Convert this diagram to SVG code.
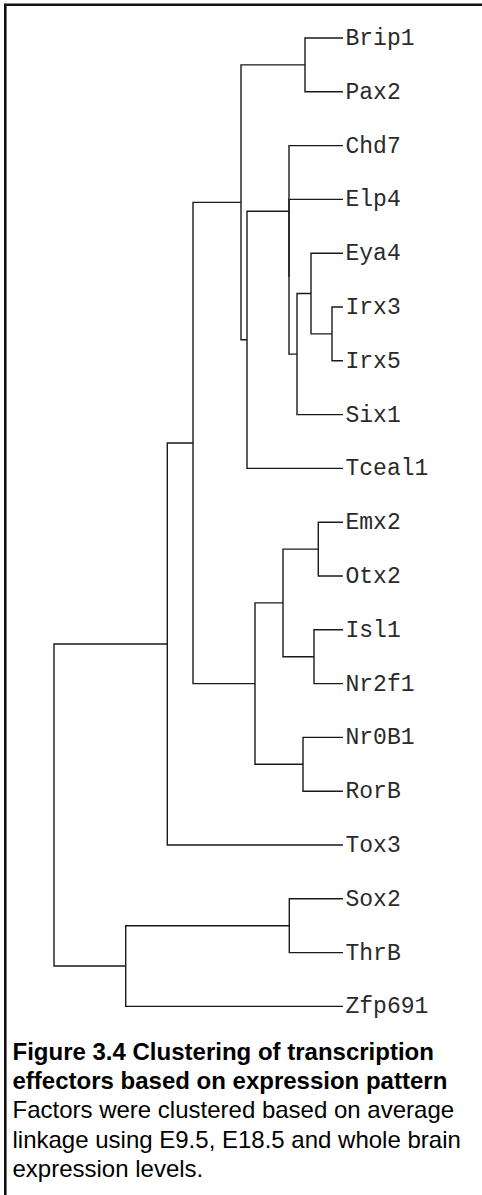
<svg xmlns="http://www.w3.org/2000/svg" width="482" height="1195" viewBox="0 0 482 1195">
  <style>
    .frame { fill: none; stroke: #111; stroke-width: 2.6; }
    .branch { fill: none; stroke: #1a1a1a; stroke-width: 1.4; }
    .leaf text { font-family: "Liberation Mono", "Courier New", monospace; font-size: 23px; fill: #2a2a2a; }
    .cap { font-family: "Liberation Sans", Arial, Helvetica, sans-serif; font-size: 24px; fill: #000; }
    .cap-title { font-weight: bold; }
  </style>
  <rect width="482" height="1195" fill="#fff"/>
  <!-- panel frame: top and left edges only -->
  <path class="frame" d="M5.3,1195 V4.7 H482"/>

  <!-- dendrogram branches (average linkage) -->
  <g id="connectors" class="branch">
    <path d="M343,38 H305 V91.8 H343"/>
    <path d="M343,307 H332 V360.8 H343"/>
    <path d="M343,253.2 H311 V333.9 H332"/>
    <path d="M311,293.55 H297 V414.6 H343"/>
    <path d="M343,199.4 H289 V354.1 H297"/>
    <path d="M343,145.6 H289 V276.75"/>
    <path d="M289,211.2 H247 V468.4 H343"/>
    <path d="M305,64.9 H241 V339.8 H247"/>
    <path d="M343,522.2 H318.3 V576 H343"/>
    <path d="M343,629.8 H314 V683.6 H343"/>
    <path d="M318.3,549.1 H283 V656.7 H314"/>
    <path d="M343,737.4 H303 V791.2 H343"/>
    <path d="M283,602.9 H255 V764.3 H303"/>
    <path d="M241,202.35 H193 V683.6 H255"/>
    <path d="M193,443 H167.3 V845 H343"/>
    <path d="M343,898.8 H289.3 V952.6 H343"/>
    <path d="M289.3,925.7 H125.7 V1006.4 H343"/>
    <path d="M167.3,644 H54 V966 H125.7"/>
  </g>

  <!-- leaf labels -->
  <g id="leaf-brip1" class="leaf"><text x="345.5" y="45">Brip1</text></g>
  <g id="leaf-pax2" class="leaf"><text x="345.5" y="98.8">Pax2</text></g>
  <g id="leaf-chd7" class="leaf"><text x="345.5" y="152.6">Chd7</text></g>
  <g id="leaf-elp4" class="leaf"><text x="345.5" y="206.4">Elp4</text></g>
  <g id="leaf-eya4" class="leaf"><text x="345.5" y="260.2">Eya4</text></g>
  <g id="leaf-irx3" class="leaf"><text x="345.5" y="314">Irx3</text></g>
  <g id="leaf-irx5" class="leaf"><text x="345.5" y="367.8">Irx5</text></g>
  <g id="leaf-six1" class="leaf"><text x="345.5" y="421.6">Six1</text></g>
  <g id="leaf-tceal1" class="leaf"><text x="345.5" y="475.4">Tceal1</text></g>
  <g id="leaf-emx2" class="leaf"><text x="345.5" y="529.2">Emx2</text></g>
  <g id="leaf-otx2" class="leaf"><text x="345.5" y="583">Otx2</text></g>
  <g id="leaf-isl1" class="leaf"><text x="345.5" y="636.8">Isl1</text></g>
  <g id="leaf-nr2f1" class="leaf"><text x="345.5" y="690.6">Nr2f1</text></g>
  <g id="leaf-nr0b1" class="leaf"><text x="345.5" y="744.4">Nr0B1</text></g>
  <g id="leaf-rorb" class="leaf"><text x="345.5" y="798.2">RorB</text></g>
  <g id="leaf-tox3" class="leaf"><text x="345.5" y="852">Tox3</text></g>
  <g id="leaf-sox2" class="leaf"><text x="345.5" y="905.8">Sox2</text></g>
  <g id="leaf-thrb" class="leaf"><text x="345.5" y="959.6">ThrB</text></g>
  <g id="leaf-zfp691" class="leaf"><text x="345.5" y="1013.4">Zfp691</text></g>

  <!-- figure caption -->
  <g id="caption">
    <text class="cap cap-title" x="12.5" y="1060">Figure 3.4 Clustering of transcription</text>
    <text class="cap cap-title" x="12.5" y="1089">effectors based on expression pattern</text>
    <text class="cap" x="12.5" y="1118">Factors were clustered based on average</text>
    <text class="cap" x="12.5" y="1148">linkage using E9.5, E18.5 and whole brain</text>
    <text class="cap" x="12.5" y="1177">expression levels.</text>
  </g>
</svg>
